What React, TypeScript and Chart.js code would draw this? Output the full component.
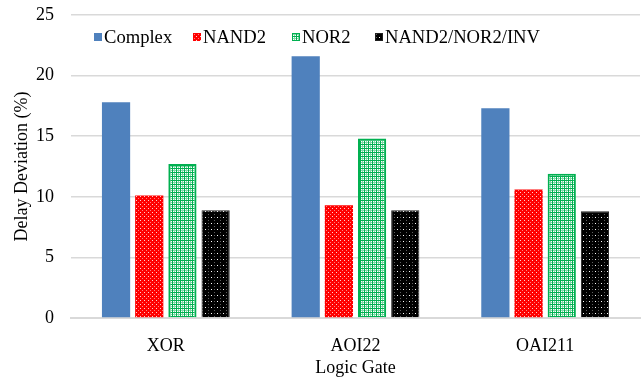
import React, { useEffect, useRef } from "react";
import { Chart, registerables } from "chart.js";

Chart.register(...registerables);

const categories = ["XOR", "AOI22", "OAI211"];
const seriesLabels = ["Complex", "NAND2", "NOR2", "NAND2/NOR2/INV"];
const complexValues = [17.8, 21.6, 17.3];
const nand2Values = [10.1, 9.3, 10.6];
const nor2Values = [12.7, 14.8, 11.9];
const mixedValues = [8.9, 8.9, 8.8];
const yTickValues = [0, 5, 10, 15, 20, 25];

const FONT = '"Liberation Serif", "Times New Roman", serif';
const FSIZE = 18;
const LEGEND_X = [94, 193, 292, 375];

function makePattern(size: number, draw: (c: CanvasRenderingContext2D) => void) {
  const cv = document.createElement("canvas");
  cv.width = size;
  cv.height = size;
  const c = cv.getContext("2d")!;
  draw(c);
  return c.createPattern(cv, "repeat")!;
}

const legendPlugin = {
  id: "customLegend",
  afterDraw(chart: any) {
    const ctx = chart.ctx;
    ctx.save();
    ctx.font = `18.6px ${FONT}`;
    ctx.textBaseline = "middle";
    const y = 37;
    chart.data.datasets.forEach((ds: any, i: number) => {
      const box = 8;
      const x = LEGEND_X[i];
      ctx.fillStyle = ds.backgroundColor;
      ctx.fillRect(x, y - box / 2, box, box);
      if (ds.borderWidth && ds.borderWidth > 0) {
        ctx.strokeStyle = ds.borderColor;
        ctx.lineWidth = 1;
        ctx.strokeRect(x + 0.5, y - box / 2 + 0.5, box - 1, box - 1);
      }
      ctx.fillStyle = "#000";
      ctx.fillText(ds.label, x + box + 2, y + 1);
    });
    ctx.restore();
  },
};

export default function App() {
  const ref = useRef<HTMLCanvasElement | null>(null);
  useEffect(() => {
    if (!ref.current) return;
    const redPat = makePattern(4, (c) => {
      c.fillStyle = "#ff0000";
      c.fillRect(0, 0, 4, 4);
      c.fillStyle = "#ffd0d0";
      c.fillRect(0, 0, 1, 1);
      c.fillStyle = "#ff8080";
      c.fillRect(2, 2, 1, 1);
    });
    const greenPat = makePattern(4, (c) => {
      c.fillStyle = "#ffffff";
      c.fillRect(0, 0, 4, 4);
      c.fillStyle = "#80d8a8";
      c.fillRect(2, 0, 1, 4);
      c.fillRect(0, 2, 4, 1);
      c.fillStyle = "#00b050";
      c.fillRect(0, 0, 4, 1);
      c.fillRect(0, 0, 1, 4);
    });
    const blackPat = makePattern(6, (c) => {
      c.fillStyle = "#000000";
      c.fillRect(0, 0, 6, 6);
      c.fillStyle = "#ffffff";
      c.fillRect(1, 1, 1, 1);
      c.fillStyle = "#606060";
      c.fillRect(4, 4, 1, 1);
      c.fillRect(4, 1, 1, 1);
    });

    const chart = new Chart(ref.current, {
      type: "bar",
      data: {
        labels: categories,
        datasets: [
          { label: seriesLabels[0], data: complexValues, backgroundColor: "#4f81bd", borderWidth: 0 },
          { label: seriesLabels[1], data: nand2Values, backgroundColor: redPat as any, borderWidth: 0 },
          { label: seriesLabels[2], data: nor2Values, backgroundColor: greenPat as any, borderColor: "#00b050", borderWidth: 2 },
          { label: seriesLabels[3], data: mixedValues, backgroundColor: blackPat as any, borderColor: "#202020", borderWidth: 1 },
        ],
      },
      options: {
        animation: false,
        responsive: true,
        maintainAspectRatio: false,
        layout: { padding: { top: 15, right: 2, left: 0, bottom: 0 } },
        datasets: { bar: { categoryPercentage: 0.7, barPercentage: 0.85 } },
        plugins: { legend: { display: false }, tooltip: { enabled: false } },
        scales: {
          x: {
            grid: { display: false, drawTicks: false },
            border: { display: true, color: "#d9d9d9", width: 2 },
            ticks: { color: "#000", font: { family: FONT, size: FSIZE }, padding: 17 },
            title: { display: true, text: "Logic Gate", color: "#000", font: { family: FONT, size: FSIZE }, padding: { top: 0, bottom: 0 } },
            afterFit: (s: any) => {
              s.height = 61;
              s.paddingLeft = 0;
              s.paddingRight = 0;
            },
          },
          y: {
            min: 0,
            max: 25,
            afterBuildTicks: (s: any) => {
              s.ticks = yTickValues.map((v) => ({ value: v }));
            },
            afterFit: (s: any) => {
              s.width = 71;
              s.paddingTop = 0;
              s.paddingBottom = 0;
            },
            grid: { color: "#d9d9d9", lineWidth: 1.5, drawTicks: false },
            border: { display: false },
            ticks: { color: "#000", font: { family: FONT, size: FSIZE }, padding: 17 },
            title: { display: true, text: "Delay Deviation (%)", color: "#000", font: { family: FONT, size: FSIZE }, padding: { top: 11, bottom: 0 } },
          },
        },
      },
      plugins: [legendPlugin],
    });
    return () => chart.destroy();
  }, []);

  return (
    <div style={{ position: "absolute", left: 0, top: 0, width: 642, height: 379, background: "#fff" }}>
      <canvas ref={ref} />
    </div>
  );
}
